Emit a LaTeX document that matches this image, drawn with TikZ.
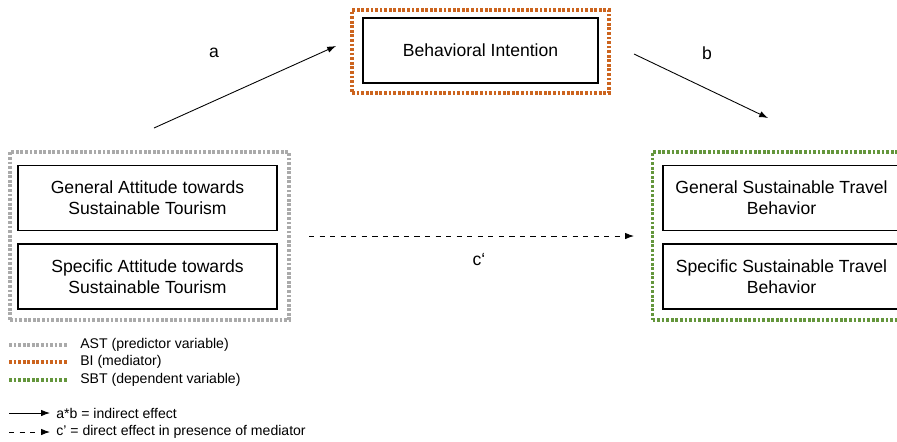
\documentclass[tikz,border=0pt]{standalone}
\usepackage{fontspec}
\setmainfont{Liberation Sans}
\usetikzlibrary{arrows.meta,positioning}
\definecolor{astgrey}{RGB}{170,170,170}
\definecolor{biorange}{RGB}{204,100,30}
\definecolor{sbtgreen}{RGB}{100,150,60}

\begin{document}
\begin{tikzpicture}[x=0.02cm, y=-0.02cm,
  varbox/.style={draw=black, line width=0.8pt, inner sep=0pt, align=center,
    font=\fontsize{10}{12}\selectfont, minimum height=1.3cm},
  groupbox/.style={line width=2.1pt, dash pattern=on 1.6pt off 1pt, inner sep=0pt},
  effect/.style={-{Latex[length=5pt,width=3.6pt]}, line width=0.5pt},
  keytext/.style={anchor=west, inner sep=0pt, font=\fontsize{8}{10}\selectfont}]
\useasboundingbox (0,0) rectangle (897,441);
\clip (0,0) rectangle (897,441);

%--- mediatore ---
\node[groupbox, draw=biorange, minimum width=5.14cm, minimum height=1.66cm] (bigroup) at (480.5,51.5) {};
\node[varbox, minimum width=4.7cm] (bi) at (480.5,50.5) {Behavioral Intention};

%--- predittore ---
\node[groupbox, draw=astgrey, minimum width=5.58cm, minimum height=3.36cm] (astgroup) at (149.5,236) {};
\node[varbox, minimum width=5.18cm] (astgen) at (147.5,198) {General Attitude towards\\Sustainable Tourism};
\node[varbox, minimum width=5.18cm] (astspec) at (147.5,276.5) {Specific Attitude towards\\Sustainable Tourism};

%--- dipendente ---
\node[groupbox, draw=sbtgreen, minimum width=5.3cm, minimum height=3.36cm] (sbtgroup) at (785,236) {};
\node[varbox, minimum width=4.74cm] (sbtgen) at (781.5,198) {General Sustainable Travel\\Behavior};
\node[varbox, minimum width=4.74cm] (sbtspec) at (781.5,276.5) {Specific Sustainable Travel\\Behavior};

%--- effetti ---
\coordinate (astout) at (154,128);
\coordinate (biin) at (336,46);
\coordinate (biout) at (634,54);
\coordinate (sbtin) at (768,118);
\coordinate (dirstart) at (309,236);
\coordinate (dirend) at (634,236);
\draw[effect] (astout) -- (biin);
\draw[effect] (biout) -- (sbtin);
\draw[effect, dashed] (dirstart) -- (dirend);
\node[font=\fontsize{10}{12}\selectfont] (alabel) at (214,53) {a};
\node[font=\fontsize{10}{12}\selectfont] (blabel) at (707,53) {b};
\node[font=\fontsize{10}{12}\selectfont] (clabel) at (479,260) {c‘};

%--- legenda ---
\foreach \col/\y/\name in {astgrey/345/ast, biorange/362/bi, sbtgreen/380/sbt}{
  \coordinate (\name keya) at (9,\y);
  \coordinate (\name keyb) at (68,\y);
  \draw[groupbox, draw=\col] (\name keya) -- (\name keyb);
}
\node[keytext] (astkey) at (80,345) {AST (predictor variable)};
\node[keytext] (bikey) at (80,362) {BI (mediator)};
\node[keytext] (sbtkey) at (80,380) {SBT (dependent variable)};
\coordinate (indkeya) at (9,413);
\coordinate (indkeyb) at (50,413);
\coordinate (dirkeya) at (9,432);
\coordinate (dirkeyb) at (50,432);
\draw[effect] (indkeya) -- (indkeyb);
\draw[effect, dashed] (dirkeya) -- (dirkeyb);
\node[keytext] (indkey) at (56,413) {a*b = indirect effect};
\node[keytext] (dirkey) at (56,432) {c' = direct effect in presence of mediator};
\end{tikzpicture}
\end{document}
